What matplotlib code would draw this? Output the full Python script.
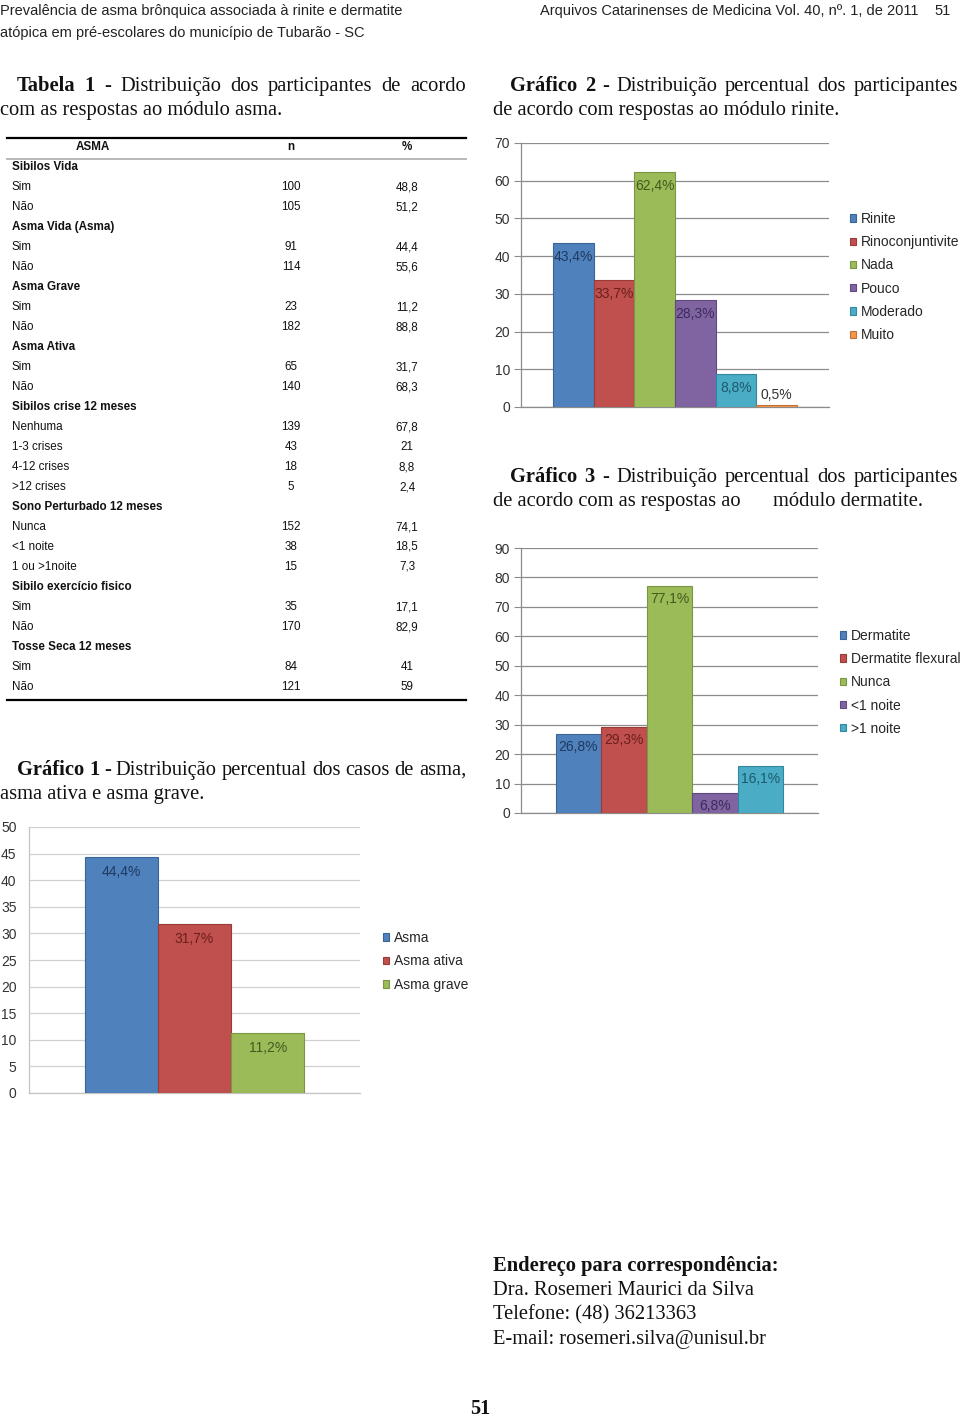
import matplotlib
matplotlib.use('Agg')
import matplotlib.pyplot as plt
from matplotlib.lines import Line2D
import numpy as np

# ---------------- data ----------------
table_labels = ['Sibilos Vida', 'Sim', 'Não', 'Asma Vida (Asma)', 'Sim', 'Não',
                'Asma Grave', 'Sim', 'Não', 'Asma Ativa', 'Sim', 'Não',
                'Sibilos crise 12 meses', 'Nenhuma', '1-3 crises', '4-12 crises', '>12 crises',
                'Sono Perturbado 12 meses', 'Nunca', '<1 noite', '1 ou >1noite',
                'Sibilo exercício fisico', 'Sim', 'Não', 'Tosse Seca 12 meses', 'Sim', 'Não']
table_n = [None, 100, 105, None, 91, 114, None, 23, 182, None, 65, 140,
           None, 139, 43, 18, 5, None, 152, 38, 15, None, 35, 170, None, 84, 121]
table_pct = [None, 48.8, 51.2, None, 44.4, 55.6, None, 11.2, 88.8, None, 31.7, 68.3,
             None, 67.8, 21, 8.8, 2.4, None, 74.1, 18.5, 7.3, None, 17.1, 82.9, None, 41, 59]
table_header = ['ASMA', 'n', '%']

rin_cats = ['Rinite', 'Rinoconjuntivite', 'Nada', 'Pouco', 'Moderado', 'Muito']
rin_vals = [43.4, 33.7, 62.4, 28.3, 8.8, 0.5]

derm_cats = ['Dermatite', 'Dermatite flexural', 'Nunca', '<1 noite', '>1 noite']
derm_vals = [26.8, 29.3, 77.1, 6.8, 16.1]

asma_cats = ['Asma', 'Asma ativa', 'Asma grave']
asma_vals = [44.4, 31.7, 11.2]

# ---------------- style ----------------
W, H = 960, 1418
SERIF = 'Liberation Serif'
SANS = 'Liberation Sans'
SERIF_SIZE = 14.8
BAR_COLORS = ['#4F81BD', '#C0504D', '#9BBB59', '#8064A2', '#4BACC6', '#F79646']
EDGE_COLORS = ['#3A6494', '#9A3B39', '#7A9643', '#5F4A80', '#33879E', '#C0723A']
LAB_COLORS = ['#1E3A60', '#6B1F1D', '#45591E', '#3B2B5A', '#1D5A6B', '#333333']

fig = plt.figure(figsize=(W / 100, H / 100), dpi=100)
fig.patch.set_facecolor('white')
renderer = fig.canvas.get_renderer()


def fx(x):
    return x / W


def fy(y):
    return 1 - y / H


def hline(x0, x1, y, color='black', lw=1.5):
    fig.add_artist(Line2D([fx(x0), fx(x1)], [fy(y), fy(y)], color=color, lw=lw))


def justify(parts, x0, x1, yb, size=SERIF_SIZE):
    texts = [fig.text(0, 0, w, fontsize=size, fontfamily=SERIF, fontweight=wt,
                      ha='left', va='baseline', color='#111111') for w, wt in parts]
    widths = [t.get_window_extent(renderer).width for t in texts]
    gap = (x1 - x0 - sum(widths)) / (len(texts) - 1)
    x = x0
    for t, wd in zip(texts, widths):
        t.set_position((fx(x), fy(yb)))
        x += wd + gap


def caption_words(bold, rest):
    return [(w, 'bold') for w in bold.split()] + [(w, 'normal') for w in rest.split()]


def serif(x, yb, s, weight='normal', size=SERIF_SIZE, ha='left'):
    fig.text(fx(x), fy(yb), s, fontsize=size, fontfamily=SERIF, fontweight=weight,
             ha=ha, va='baseline', color='#111111')


# ---------------- page header ----------------
hkw = dict(fontsize=10.5, fontfamily=SANS, va='baseline', color='#222222')
fig.text(fx(0), fy(15), 'Prevalência de asma brônquica associada à rinite e dermatite',
         ha='left', **hkw)
fig.text(fx(0), fy(37), 'atópica em pré-escolares do município de Tubarão - SC',
         ha='left', **hkw)
fig.text(fx(918), fy(15), 'Arquivos Catarinenses de Medicina Vol. 40, nº. 1, de 2011',
         ha='right', **hkw)
fig.text(fx(951), fy(15), '51', ha='right', **hkw)

# ---------------- captions ----------------
justify(caption_words('Tabela 1', '- Distribuição dos participantes de acordo'), 17, 466, 91)
serif(0, 115, 'com as respostas ao módulo asma.')
justify(caption_words('Gráfico 2', '- Distribuição percentual dos participantes'), 510, 958, 91)
serif(493, 115, 'de acordo com respostas ao módulo rinite.')
justify(caption_words('Gráfico 3', '- Distribuição percentual dos participantes'), 510, 958, 482)
serif(493, 506, 'de acordo com as respostas ao')
serif(773, 506, 'módulo dermatite.')
justify(caption_words('Gráfico 1', '- Distribuição percentual dos casos de asma,'), 17, 466, 775)
serif(0, 799, 'asma ativa e asma grave.')

# ---------------- table ----------------
hline(7, 466, 138, lw=1.6)
hline(7, 466, 159, color='#B8B8B8', lw=1.4)
hline(7, 466, 700, lw=1.6)
tkw = dict(fontsize=8.4, fontfamily=SANS, va='center', color='#111111')
fig.text(fx(93), fy(147), table_header[0], ha='center', fontweight='bold', **tkw)
fig.text(fx(291), fy(147), table_header[1], ha='center', fontweight='bold', **tkw)
fig.text(fx(407), fy(147), table_header[2], ha='center', fontweight='bold', **tkw)
for i, (lab, n, p) in enumerate(zip(table_labels, table_n, table_pct)):
    y = 167 + 20 * i
    if n is None:
        fig.text(fx(12), fy(y), lab, ha='left', fontweight='bold', **tkw)
    else:
        fig.text(fx(12), fy(y), lab, ha='left', **tkw)
        fig.text(fx(291), fy(y), str(n), ha='center', **tkw)
        fig.text(fx(407), fy(y), f'{p:g}'.replace('.', ','), ha='center', **tkw)


# ---------------- charts ----------------
def bar_chart(box, cats, vals, ymax, step, pad, grid_color, spine_color, tick_len,
              tick_pad, label_off, legend_xy, label_spacing):
    x0, x1, y0, y1 = box
    ax = fig.add_axes([fx(x0), fy(y1), (x1 - x0) / W, (y1 - y0) / H])
    n = len(vals)
    xs = np.arange(n)
    bars = ax.bar(xs, vals, width=1.0, color=BAR_COLORS[:n], edgecolor=EDGE_COLORS[:n],
                  linewidth=0.8, zorder=3)
    ax.set_xlim(-0.5 - pad, n - 0.5 + pad)
    ax.set_ylim(0, ymax)
    ax.set_yticks(np.arange(0, ymax + 0.1, step))
    ax.set_xticks([])
    ax.yaxis.grid(True, color=grid_color, lw=0.9, zorder=0)
    ax.set_axisbelow(True)
    for s in ['top', 'right']:
        ax.spines[s].set_visible(False)
    for s in ['left', 'bottom']:
        ax.spines[s].set_color(spine_color)
        ax.spines[s].set_linewidth(0.9)
    ax.tick_params(axis='y', length=tick_len, color=spine_color, labelsize=10,
                   labelcolor='#333333', pad=tick_pad)
    for lbl in ax.get_yticklabels():
        lbl.set_fontfamily(SANS)
    ax.patch.set_alpha(0)
    for i, v in enumerate(vals):
        off = -label_off if v >= 3 else 10
        ax.annotate(f'{v:.1f}%'.replace('.', ','), (xs[i], v), xytext=(0, off),
                    textcoords='offset pixels', ha='center', va='center', fontsize=10,
                    fontfamily=SANS, color=LAB_COLORS[i] if v >= 3 else '#333333',
                    zorder=4)
    fig.legend(list(bars), cats, loc='upper left',
               bbox_to_anchor=(fx(legend_xy[0]), fy(legend_xy[1])), frameon=False,
               prop={'family': SANS, 'size': 10}, labelcolor='#262626',
               handlelength=0.45, handleheight=0.45, handletextpad=0.35,
               labelspacing=label_spacing, borderpad=0, borderaxespad=0)
    return ax


bar_chart((521, 829, 143, 407), rin_cats, rin_vals, 70, 10, 0.79, '#8C8C8C', '#8C8C8C',
          5, 3, 14, (850, 212), 0.665)
bar_chart((521, 818, 548, 813), derm_cats, derm_vals, 90, 10, 0.76, '#8C8C8C', '#8C8C8C',
          5, 3, 13, (840, 629), 0.66)
bar_chart((29, 360, 827, 1093), asma_cats, asma_vals, 50, 5, 0.76, '#D0D0D0', '#C4C4C4',
          0, 9, 15, (383, 931), 0.68)

# ---------------- address block ----------------
serif(493, 1271, 'Endereço para correspondência:', weight='bold')
serif(493, 1295, 'Dra. Rosemeri Maurici da Silva')
serif(493, 1319, 'Telefone: (48) 36213363')
serif(493, 1344, 'E-mail: rosemeri.silva@unisul.br')
fig.text(fx(480), fy(1409), '51', fontsize=14.5, fontfamily=SERIF, fontweight='bold',
         ha='center', va='center', color='#111111')

fig.savefig('out.png', dpi=100, facecolor='white')
